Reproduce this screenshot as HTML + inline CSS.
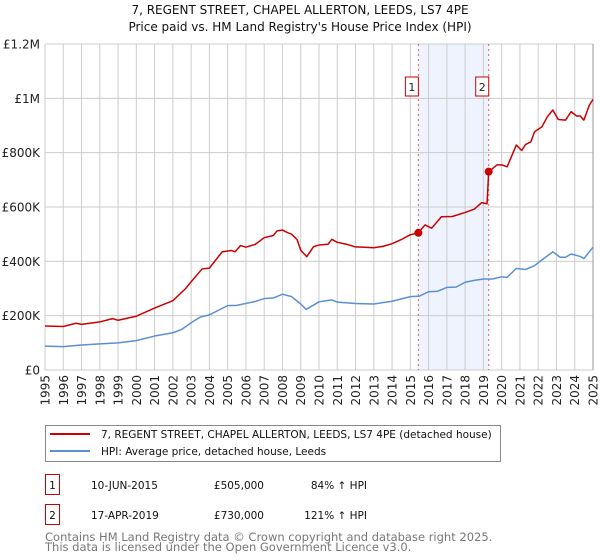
<!DOCTYPE html>
<html><head><meta charset="utf-8"><style>
body{margin:0;background:#fff;width:600px;height:560px;overflow:hidden;font-family:"DejaVu Sans","Liberation Sans",sans-serif;}
svg{position:absolute;left:0;top:0}
</style></head><body>
<svg id="c" width="600" height="560"></svg>
<script>
const years=[1995,1996,1997,1998,1999,2000,2001,2002,2003,2004,2005,2006,2007,2008,2009,2010,2011,2012,2013,2014,2015,2016,2017,2018,2019,2020,2021,2022,2023,2024,2025];
const yTicks=[0,200000,400000,600000,800000,1000000,1200000];
const yTickLabels=["£0","£200K","£400K","£600K","£800K","£1M","£1.2M"];
const redT=[1995,1996,1996.7,1997,1998,1998.7,1999,2000,2001,2002,2002.7,2003,2003.6,2004,2004.7,2005.2,2005.4,2005.7,2006,2006.5,2007,2007.5,2007.7,2008,2008.3,2008.5,2008.8,2009,2009.33,2009.7,2010,2010.5,2010.7,2011,2011.5,2012,2012.5,2013,2013.5,2014,2014.5,2015,2015.44,2015.8,2016.17,2016.7,2017.3,2018,2018.5,2018.9,2019.2,2019.29,2019.74,2020,2020.3,2020.8,2021.1,2021.3,2021.6,2021.8,2022.2,2022.5,2022.8,2023.1,2023.5,2023.8,2024.1,2024.3,2024.5,2024.8,2025];
const redV=[162000,160000,172000,168000,177000,189000,183000,198000,228000,255000,300000,325000,372000,375000,435000,440000,435000,458000,452000,462000,487000,495000,512000,515000,505000,500000,480000,441000,417000,454000,460000,463000,481000,470000,463000,453000,452000,450000,455000,465000,480000,498000,505000,534000,522000,564000,565000,580000,592000,616000,612000,730000,755000,755000,748000,828000,808000,830000,840000,877000,895000,932000,957000,922000,920000,951000,935000,935000,920000,975000,996000];
const blueT=[1995,1996,1997,1998,1999,2000,2001,2002,2002.5,2003,2003.5,2004,2004.5,2005,2005.5,2006,2006.5,2007,2007.5,2008,2008.5,2009,2009.3,2010,2010.7,2011,2012,2013,2014,2015,2015.5,2016,2016.5,2017,2017.5,2018,2018.5,2019,2019.5,2020,2020.3,2020.8,2021.3,2021.8,2022.2,2022.8,2023.2,2023.5,2023.8,2024.3,2024.5,2025];
const blueV=[88000,86000,92000,96000,100000,108000,125000,137000,150000,174000,195000,203000,220000,237000,238000,245000,252000,263000,265000,279000,270000,243000,223000,251000,258000,250000,245000,243000,253000,270000,272000,288000,290000,304000,305000,323000,330000,335000,335000,343000,341000,374000,370000,384000,405000,435000,415000,415000,427000,418000,410000,452000];
const sales=[[2015.44,505000,"1"],[2019.29,730000,"2"]];

const L=45,R=593,T=44,B=370;
const X=t=>L+(t-1995)/30*(R-L);
const Y=v=>B-v/1200000*(B-T);
const svg=document.getElementById('c');
const NS="http://www.w3.org/2000/svg";
function mk(tag,attrs,parent){const e=document.createElementNS(NS,tag);for(const k in attrs)e.setAttribute(k,attrs[k]);(parent||svg).appendChild(e);return e;}

const sh=mk('rect',{x:X(sales[0][0]),y:T,width:X(sales[1][0])-X(sales[0][0]),height:B-T,fill:'#eef3fd'});


years.forEach(y=>{const g=mk('line',{x1:X(y),x2:X(y),y1:T,y2:B,stroke:'#cccccc','stroke-width':1});


const t=mk('text',{x:0,y:0,transform:`translate(${X(y)+4.5},${B+5}) rotate(-90)`,'text-anchor':'end','font-size':'12',fill:'#222'});
t.textContent=y;

});
yTicks.forEach((v,i)=>{const g=mk('line',{x1:L,x2:R,y1:Y(v),y2:Y(v),stroke:'#cccccc','stroke-width':1});


const t=mk('text',{x:40,y:Y(v)+4.5,'text-anchor':'end','font-size':'12',fill:'#222'});
t.textContent=yTickLabels[i];

});
const ax=mk('line',{x1:R,x2:R,y1:T,y2:B,stroke:'#999','stroke-width':1});


sales.forEach(s=>{const l=mk('line',{x1:X(s[0]),x2:X(s[0]),y1:T,y2:B,stroke:'#e06060','stroke-width':1,'stroke-dasharray':'2,3'});


const bx=X(s[0])-9;
const r=mk('rect',{x:bx-4,y:77,width:13,height:19,fill:'#fff',stroke:'#cc0000','stroke-width':1});


const t=mk('text',{x:bx+2.5,y:91,'text-anchor':'middle','font-size':'11',fill:'#222'});
t.textContent=s[2];

});
function line(ts,vs,col,name){const p=mk('polyline',{points:ts.map((t,i)=>X(t)+','+Y(vs[i])).join(' '),fill:'none',stroke:col,'stroke-width':1.5,'stroke-linejoin':'round'});

}
line(blueT,blueV,'#5b8fd4','hpi-line');
line(redT,redV,'#cc0000','property-price-line');
sales.forEach(s=>{const c=mk('circle',{cx:X(s[0]),cy:Y(s[1]),r:4,fill:'#cc0000'});

});
const t1=mk('text',{x:300,y:14,'text-anchor':'middle','font-size':'12',fill:'#111'});t1.textContent="7, REGENT STREET, CHAPEL ALLERTON, LEEDS, LS7 4PE";


const t2=mk('text',{x:300,y:31,'text-anchor':'middle','font-size':'12',fill:'#111'});t2.textContent="Price paid vs. HM Land Registry's House Price Index (HPI)";


const lg=mk('rect',{x:45.5,y:425.5,width:455,height:36,fill:'#fff',stroke:'#888','stroke-width':1});


[[434,'#cc0000',"7, REGENT STREET, CHAPEL ALLERTON, LEEDS, LS7 4PE (detached house)"],[451,'#5b8fd4',"HPI: Average price, detached house, Leeds"]].forEach(e=>{
const l=mk('line',{x1:50,x2:90,y1:e[0],y2:e[0],stroke:e[1],'stroke-width':2});


const t=mk('text',{x:101,y:e[0]+4,'font-size':'10.5',fill:'#111'});t.textContent=e[2];

});
[[485,"1","10-JUN-2015","£505,000","84% ↑ HPI"],[515,"2","17-APR-2019","£730,000","121% ↑ HPI"]].forEach(r=>{
const b=mk('rect',{x:45.5,y:r[0]-10.5,width:14,height:20,fill:'#fff',stroke:'#cc0000','stroke-width':1});


const a=mk('text',{x:52.5,y:r[0]+4,'text-anchor':'middle','font-size':'10.5',fill:'#111'});a.textContent=r[1];


const d=mk('text',{x:91,y:r[0]+4,'font-size':'10.5',fill:'#111'});d.textContent=r[2];


const p=mk('text',{x:264,y:r[0]+4,'text-anchor':'end','font-size':'10.5',fill:'#111'});p.textContent=r[3];


const h=mk('text',{x:367,y:r[0]+4,'text-anchor':'end','font-size':'10.5',fill:'#111'});h.textContent=r[4];

});
const f1=mk('text',{x:45,y:541,'font-size':'11.5',fill:'#777'});f1.textContent="Contains HM Land Registry data © Crown copyright and database right 2025.";


const f2=mk('text',{x:45,y:551,'font-size':'11.5',fill:'#777'});f2.textContent="This data is licensed under the Open Government Licence v3.0.";


</script>
</body></html>
